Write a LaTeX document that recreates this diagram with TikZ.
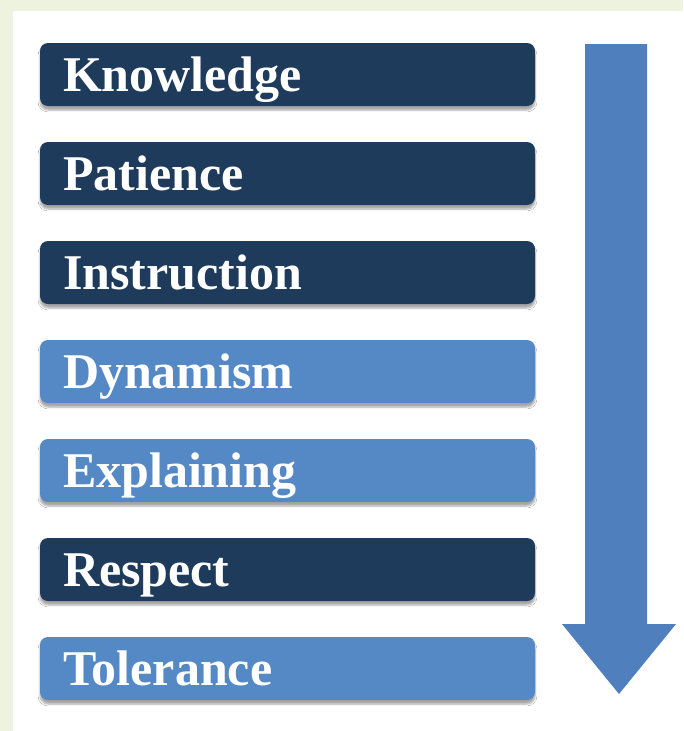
\documentclass[tikz,border=0pt]{standalone}
\usepackage{fontspec}
\setmainfont{Liberation Serif}
\usetikzlibrary{shadows.blur}

\definecolor{pagegreen}{HTML}{EEF3DF}
\definecolor{darkbar}{HTML}{1F3B5C}
\definecolor{lightbar}{HTML}{5589C6}
\definecolor{arrowblue}{HTML}{4F7FBC}

\tikzset{
  bar/.style={
    rectangle, rounded corners=8pt,
    minimum width=495pt, minimum height=63pt,
    text width=449pt, align=left,
    inner xsep=23pt, inner ysep=15pt,
    text height=33pt, text depth=0pt,
    text=white,
    font=\fontsize{50}{56}\selectfont\bfseries,
    blur shadow={shadow xshift=0pt, shadow yshift=-4pt,
                 shadow blur steps=6, shadow opacity=35}
  },
  darkbox/.style={bar, fill=darkbar},
  lightbox/.style={bar, fill=lightbar}
}

\begin{document}
\begin{tikzpicture}[x=1pt, y=-1pt]
  % page and white panel
  \fill[pagegreen] (0,0) rectangle (683,731);
  \fill[white] (13,11) rectangle (683,731);
  \useasboundingbox (0,0) rectangle (683,731);

  % list of bars
  \node[darkbox]  (knowledge)   at (287.5, 74.5) {Knowledge};
  \node[darkbox]  (patience)    at (287.5,173.5) {Patience};
  \node[darkbox]  (instruction) at (287.5,272.5) {Instruction};
  \node[lightbox] (dynamism)    at (287.5,371.5) {Dynamism};
  \node[lightbox] (explaining)  at (287.5,470.5) {Explaining};
  \node[darkbox]  (respect)     at (287.5,569.5) {Respect};
  \node[lightbox] (tolerance)   at (287.5,668.5) {Tolerance};

  % downward block arrow
  \fill[arrowblue] (585,44) -- (647,44) -- (647,624) -- (676,624)
    -- (619,694) -- (562,624) -- (585,624) -- cycle;
\end{tikzpicture}
\end{document}
